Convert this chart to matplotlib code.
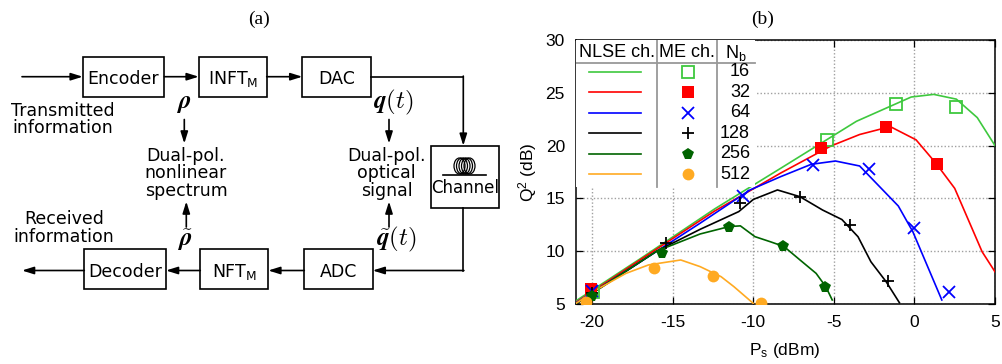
import numpy as np
import matplotlib.pyplot as plt
from matplotlib.patches import Rectangle, Ellipse
from matplotlib.lines import Line2D

plt.rcParams['axes.unicode_minus'] = False
plt.rcParams['mathtext.fontset'] = 'custom'
plt.rcParams['mathtext.rm'] = 'Liberation Sans'
plt.rcParams['mathtext.it'] = 'Liberation Sans:italic'

# ---- panel (b) data ----
nb = [16, 32, 64, 128, 256, 512]
colors = ['#3ec83e', '#ff0000', '#0000ff', '#000000', '#006400', '#ffaa22']

# NLSE channel (lines)
nlse16_p = [-21, -17, -12.4, -8.3, -3.6, -0.2, 1.2, 2.6, 3.9, 5.0]
nlse16_q = [5.3, 9.3, 14.0, 17.85, 22.3, 24.6, 24.85, 24.4, 22.65, 20.0]
nlse32_p = [-21, -17, -12.4, -8.3, -5.2, -3.4, -1.5, 0.1, 1.35, 2.5, 4.2, 5.0]
nlse32_q = [5.15, 9.2, 13.8, 17.4, 19.95, 21.05, 21.8, 20.55, 18.3, 15.95, 9.95, 8.05]
nlse64_p = [-21, -17, -13.3, -10.2, -8.3, -6.4, -4.9, -3.4, -1.0, -0.1, 1.7]
nlse64_q = [5.1, 9.0, 12.65, 15.8, 17.06, 18.23, 18.54, 18.07, 14.28, 11.85, 5.38]
nlse128_p = [-21, -16, -13.3, -10.9, -10.0, -8.5, -7.1, -5.7, -4.5, -3.5, -2.7, -1.75, -0.93]
nlse128_q = [5.0, 10.0, 12.07, 13.75, 14.9, 15.8, 15.16, 13.9, 13.0, 11.37, 9.0, 7.1, 5.12]
nlse256_p = [-21, -16, -13.3, -11.5, -10.8, -9.9, -8.95, -8.1, -7.1, -6.1, -5.5, -5.1]
nlse256_q = [5.05, 10.0, 11.63, 12.33, 12.4, 11.38, 10.9, 10.45, 9.17, 7.9, 6.64, 5.38]
nlse512_p = [-21, -19.75, -17.9, -16.5, -14.5, -13.3, -12.0, -11.2, -10.0]
nlse512_q = [5.06, 6.33, 7.9, 8.7, 9.17, 8.54, 7.59, 6.64, 5.06]

# ME channel (markers)
me16_p = [-19.95, -5.45, -1.13, 2.57]
me16_q = [6.1, 20.53, 23.9, 23.69]
me32_p = [-20.05, -5.8, -1.79, 1.40]
me32_q = [6.45, 19.74, 21.8, 18.23]
me64_p = [-20.0, -10.64, -6.28, -2.82, 0.0, 2.16]
me64_q = [6.23, 15.23, 18.2, 17.75, 12.17, 6.17]
me128_p = [-20.0, -15.4, -10.8, -7.13, -4.01, -1.65]
me128_q = [6.0, 10.75, 14.55, 15.16, 12.48, 7.18]
me256_p = [-20.0, -15.64, -11.52, -8.13, -5.53]
me256_q = [5.75, 9.86, 12.32, 10.5, 6.64]
me512_p = [-20.37, -16.15, -12.49, -9.53]
me512_q = [5.22, 8.38, 7.65, 5.06]

nlse = [(nlse16_p, nlse16_q), (nlse32_p, nlse32_q), (nlse64_p, nlse64_q),
        (nlse128_p, nlse128_q), (nlse256_p, nlse256_q), (nlse512_p, nlse512_q)]
me = [(me16_p, me16_q), (me32_p, me32_q), (me64_p, me64_q),
      (me128_p, me128_q), (me256_p, me256_q), (me512_p, me512_q)]
mk = [dict(marker='s', ms=9, mfc='none', mew=1.3),
      dict(marker='s', ms=9, mew=0),
      dict(marker='x', ms=9, mew=1.3),
      dict(marker='+', ms=9, mew=1.3),
      dict(marker='p', ms=8.5, mew=0),
      dict(marker='o', ms=8.5, mew=0)]

fig = plt.figure(figsize=(10.02, 3.64), dpi=100)

# ---- panel (a): block diagram in pixel coordinates ----
d = fig.add_axes([0, 0, 1, 1])
d.set_xlim(0, 1002)
d.set_ylim(364, 0)
d.axis('off')

sans = 'DejaVu Sans'
fs = 12.5
LW = 1.2

def box(x0, x1, y0, y1):
    d.add_patch(Rectangle((x0, y0), x1 - x0, y1 - y0, fill=False, ec='k', lw=LW))

def arrow(x0, y0, x1, y1):
    d.annotate('', xy=(x1, y1), xytext=(x0, y0),
               arrowprops=dict(arrowstyle='-|>,head_length=0.7,head_width=0.22',
                               color='k', lw=LW, shrinkA=0, shrinkB=0))

def label(x, y, s, size=fs, **kw):
    d.text(x, y, s, ha='center', va='baseline', fontsize=size, family=sans, **kw)

ytop, ybot = 76.7, 270.5
box(82.7, 164.3, 56.7, 96.7)
box(198.7, 266.7, 56.7, 96.7)
box(302.3, 370.7, 56.7, 96.7)
box(84.3, 166.0, 249.0, 289.0)
box(200.3, 268.3, 249.0, 289.0)
box(304.3, 372.7, 249.0, 289.0)
box(431.0, 499.3, 145.7, 208.0)

label(123.5, 84.3, 'Encoder')
label(232.7, 84.3, r'INFT$_\mathrm{M}$', math_fontfamily='dejavusans')
label(336.5, 84.3, 'DAC')
label(125.2, 276.7, 'Decoder')
label(234.3, 276.7, r'NFT$_\mathrm{M}$', math_fontfamily='dejavusans')
label(338.5, 276.7, 'ADC')
label(465.0, 193.0, 'Channel', size=12)

arrow(22, ytop, 82.7, ytop)
arrow(164.3, ytop, 198.7, ytop)
arrow(266.7, ytop, 302.3, ytop)
d.plot([370.7, 463.3], [ytop, ytop], color='k', lw=LW)
arrow(463.3, ytop - 0.6, 463.3, 145.7)
d.plot([463.3, 463.3], [208.0, ybot], color='k', lw=LW)
arrow(463.9, ybot, 372.7, ybot)
arrow(304.3, ybot, 268.3, ybot)
arrow(200.3, ybot, 166.0, ybot)
arrow(84.3, ybot, 22, ybot)

# fibre coil icon
d.plot([443, 486], [174.5, 174.5], color='k', lw=LW)
for cx in [459.5, 462.0, 464.5, 467.0, 469.5]:
    d.add_patch(Ellipse((cx, 166.0), 11, 16, fill=False, ec='k', lw=0.9))

label(62.7, 116.0, 'Transmitted')
label(62.7, 133.3, 'information')
label(64.0, 224.3, 'Received')
label(64.0, 241.7, 'information')
label(186.0, 160.7, 'Dual-pol.')
label(186.0, 178.3, 'nonlinear')
label(186.0, 195.8, 'spectrum')
label(386.7, 160.7, 'Dual-pol.')
label(386.7, 178.3, 'optical')
label(386.7, 195.8, 'signal')

arrow(184.3, 119.5, 184.3, 143.5)
arrow(186.3, 227.0, 186.3, 201.5)
arrow(389.0, 119.5, 389.0, 143.5)
arrow(389.0, 227.0, 389.0, 201.5)

mfs = 18
d.text(184.0, 103.0, r'$\boldsymbol{\rho}$', ha='center', va='center',
       fontsize=mfs, math_fontfamily='cm')
d.text(393.3, 102.5, r'$\boldsymbol{q}(t)$', ha='center', va='center',
       fontsize=mfs, math_fontfamily='cm')
d.text(185.0, 240.0, r'$\tilde{\boldsymbol{\rho}}$', ha='center', va='center',
       fontsize=mfs, math_fontfamily='cm')
d.text(396.7, 239.5, r'$\tilde{\boldsymbol{q}}(t)$', ha='center', va='center',
       fontsize=mfs, math_fontfamily='cm')

d.text(259, 19, '(a)', ha='center', va='center', fontsize=14, family='Liberation Serif')
d.text(763, 19, '(b)', ha='center', va='center', fontsize=14, family='Liberation Serif')

# ---- panel (b): Q^2 vs launch power ----
bfs = 12.5
bfam = 'Liberation Sans'
ax = fig.add_axes([576 / 1002, 60 / 364, 419 / 1002, 264 / 364])
ax.set_xlim(-21, 5)
ax.set_ylim(5, 30)
ax.set_xticks([-20, -15, -10, -5, 0, 5])
ax.set_yticks([5, 10, 15, 20, 25, 30])
ax.grid(True, color='#a0a0a0', linestyle=(0, (1, 1.5)), lw=1.0)
ax.set_axisbelow(True)
ax.tick_params(direction='in', length=5, width=0.9, top=True, right=True,
               labelsize=bfs, pad=8)
for lab in ax.get_xticklabels() + ax.get_yticklabels():
    lab.set_family(bfam)
for s in ax.spines.values():
    s.set_linewidth(1.1)

for (px, qy), c in zip(nlse, colors):
    ax.plot(px, qy, color=c, lw=1.2, zorder=3)
for (px, qy), c, m in zip(me, colors, mk):
    ax.plot(px, qy, ls='none', color=c, zorder=4, **m)

# table style legend
T = ax.transAxes
ax.add_patch(Rectangle((0, 0.444), 0.427, 0.556, transform=T, fc='white', ec='none', zorder=5))
ax.add_line(Line2D([0, 0.427], [0.913, 0.913], transform=T, color='#999999', lw=1.3, zorder=6))
for xv in [0.1926, 0.337]:
    ax.add_line(Line2D([xv, xv], [0.444, 1.0], transform=T, color='#999999', lw=1.3, zorder=6))
ax.text(0.006, 0.952, 'NLSE ch.', transform=T, ha='left', va='center', fontsize=13, family=bfam, zorder=7)
ax.text(0.197, 0.952, 'ME ch.', transform=T, ha='left', va='center', fontsize=13, family=bfam, zorder=7)
ax.text(0.356, 0.952, r'N$_\mathrm{b}$', transform=T, ha='left', va='center', fontsize=13, family=bfam, zorder=7)
for i, (n, c, m) in enumerate(zip(nb, colors, mk)):
    yy = 0.880 - i * 0.0776
    ax.add_line(Line2D([0.031, 0.155], [yy, yy], transform=T, color=c, lw=1.2, zorder=7))
    ax.add_line(Line2D([0.2666], [yy], transform=T, color=c, ls='none', zorder=7, **m))
    ax.text(0.415, yy, str(n), transform=T, ha='right', va='center', fontsize=13, family=bfam, zorder=7)

fig.text(528 / 1002, 1 - 172 / 364, r'Q$^2$ (dB)', rotation=90, ha='center', va='center',
         fontsize=bfs, family=bfam)
fig.text(785 / 1002, 1 - 355 / 364, r'P$_\mathrm{s}$ (dBm)', ha='center', va='baseline',
         fontsize=bfs, family=bfam)

fig.savefig('out.png', dpi=100)
